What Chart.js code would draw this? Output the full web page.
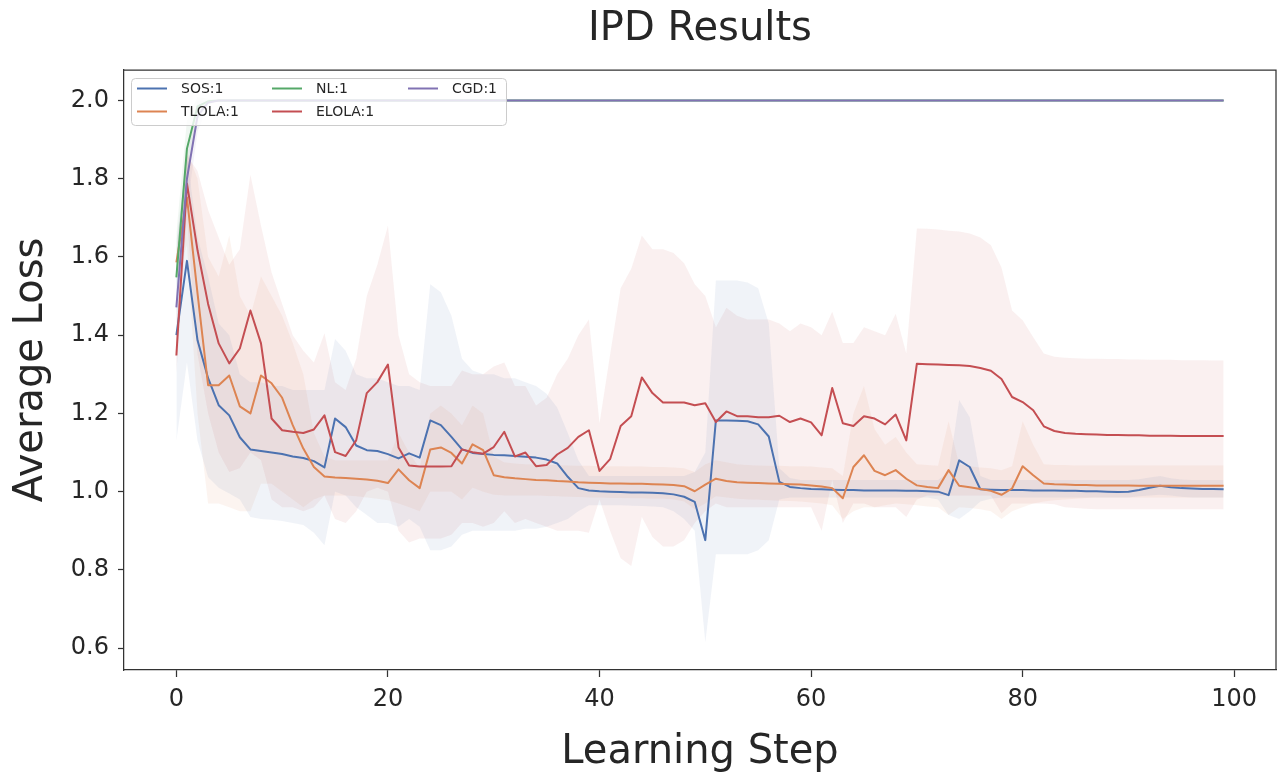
<!DOCTYPE html>
<html>
<head>
<meta charset="utf-8">
<title>IPD Results</title>
<script src="https://cdn.jsdelivr.net/npm/chart.js@4.4.1/dist/chart.umd.min.js"></script>
<style>
    html, body { margin: 0; padding: 0; background: #ffffff; }
    #wrap { width: 1278px; height: 782px; }
</style>
</head>
<body>
<div id="wrap"><canvas id="ipdChart" width="1278" height="782"></canvas></div>
<script>
// Learning steps (x values)
const steps = [
    0, 1, 2, 3, 4, 5, 6, 7, 8, 9,
    10, 11, 12, 13, 14, 15, 16, 17, 18, 19,
    20, 21, 22, 23, 24, 25, 26, 27, 28, 29,
    30, 31, 32, 33, 34, 35, 36, 37, 38, 39,
    40, 41, 42, 43, 44, 45, 46, 47, 48, 49,
    50, 51, 52, 53, 54, 55, 56, 57, 58, 59,
    60, 61, 62, 63, 64, 65, 66, 67, 68, 69,
    70, 71, 72, 73, 74, 75, 76, 77, 78, 79,
    80, 81, 82, 83, 84, 85, 86, 87, 88, 89,
    90, 91, 92, 93, 94, 95, 96, 97, 98, 99
];

const xTicks = [0, 20, 40, 60, 80, 100];
const yTicks = [0.6, 0.8, 1.0, 1.2, 1.4, 1.6, 1.8, 2.0];

const seriesNames = ['SOS:1', 'TLOLA:1', 'NL:1', 'ELOLA:1', 'CGD:1'];
const seriesColors = ['#4c72b0', '#dd8452', '#55a868', '#c44e52', '#8172b3'];

// SOS
const sosMean = [
    1.400, 1.590, 1.387, 1.290, 1.221, 1.195, 1.139, 1.108, 1.104, 1.100,
    1.096, 1.090, 1.086, 1.078, 1.062, 1.187, 1.165, 1.118, 1.106, 1.104,
    1.096, 1.085, 1.098, 1.087, 1.182, 1.170, 1.140, 1.108, 1.099, 1.096,
    1.094, 1.093, 1.091, 1.089, 1.087, 1.082, 1.072, 1.038, 1.009, 1.003,
    1.001, 1.000, 0.999, 0.998, 0.998, 0.997, 0.996, 0.993, 0.987, 0.974,
    0.876, 1.182, 1.182, 1.181, 1.180, 1.172, 1.141, 1.025, 1.012, 1.009,
    1.007, 1.006, 1.005, 1.004, 1.004, 1.003, 1.003, 1.003, 1.003, 1.002,
    1.002, 1.001, 1.000, 0.991, 1.080, 1.063, 1.006, 1.005, 1.004, 1.004,
    1.004, 1.003, 1.003, 1.003, 1.002, 1.002, 1.001, 1.001, 1.000, 0.999,
    1.000, 1.004, 1.010, 1.015, 1.011, 1.009, 1.008, 1.007, 1.007, 1.006
];
const sosUpper = [
    1.640, 1.860, 1.650, 1.550, 1.430, 1.400, 1.300, 1.280, 1.280, 1.270,
    1.270, 1.260, 1.260, 1.260, 1.260, 1.390, 1.360, 1.300, 1.290, 1.290,
    1.280, 1.270, 1.270, 1.260, 1.530, 1.510, 1.450, 1.340, 1.310, 1.300,
    1.300, 1.290, 1.290, 1.280, 1.270, 1.250, 1.215, 1.150, 1.080, 1.040,
    1.040, 1.040, 1.040, 1.040, 1.040, 1.040, 1.040, 1.040, 1.040, 1.050,
    1.100, 1.540, 1.540, 1.540, 1.535, 1.520, 1.430, 1.060, 1.035, 1.030,
    1.030, 1.030, 1.030, 1.030, 1.030, 1.030, 1.030, 1.030, 1.030, 1.030,
    1.030, 1.030, 1.030, 1.050, 1.234, 1.190, 1.040, 1.030, 1.030, 1.030,
    1.030, 1.030, 1.030, 1.030, 1.030, 1.030, 1.030, 1.030, 1.030, 1.030,
    1.030, 1.032, 1.036, 1.040, 1.034, 1.031, 1.030, 1.030, 1.030, 1.030
];
const sosLower = [
    1.130, 1.330, 1.130, 1.037, 1.010, 0.995, 0.980, 0.935, 0.930, 0.928,
    0.925, 0.920, 0.915, 0.895, 0.863, 1.000, 0.990, 0.960, 0.940, 0.920,
    0.920, 0.910, 0.930, 0.910, 0.850, 0.850, 0.860, 0.890, 0.900, 0.900,
    0.900, 0.900, 0.900, 0.905, 0.905, 0.910, 0.920, 0.930, 0.950, 0.965,
    0.965, 0.965, 0.965, 0.964, 0.963, 0.962, 0.960, 0.950, 0.930, 0.900,
    0.615, 0.840, 0.840, 0.840, 0.840, 0.850, 0.876, 0.980, 0.985, 0.985,
    0.985, 0.985, 0.985, 0.985, 0.985, 0.985, 0.985, 0.985, 0.985, 0.985,
    0.985, 0.985, 0.980, 0.940, 0.930, 0.950, 0.975, 0.982, 0.985, 0.985,
    0.985, 0.985, 0.985, 0.985, 0.985, 0.985, 0.985, 0.985, 0.985, 0.985,
    0.985, 0.988, 0.990, 0.992, 0.990, 0.987, 0.985, 0.985, 0.985, 0.985
];

// TLOLA
const tlolaMean = [
    1.586, 1.752, 1.507, 1.272, 1.272, 1.297, 1.218, 1.200, 1.297, 1.277,
    1.240, 1.170, 1.110, 1.063, 1.039, 1.036, 1.035, 1.033, 1.031, 1.028,
    1.022, 1.057, 1.029, 1.009, 1.108, 1.113, 1.099, 1.072, 1.121, 1.106,
    1.042, 1.037, 1.034, 1.032, 1.030, 1.029, 1.027, 1.026, 1.024, 1.023,
    1.022, 1.021, 1.021, 1.020, 1.020, 1.019, 1.018, 1.017, 1.014, 1.001,
    1.018, 1.033, 1.027, 1.024, 1.023, 1.022, 1.021, 1.020, 1.019, 1.018,
    1.016, 1.013, 1.009, 0.983, 1.063, 1.093, 1.053, 1.042, 1.055, 1.033,
    1.016, 1.012, 1.009, 1.055, 1.015, 1.011, 1.007, 1.002, 0.992, 1.008,
    1.065, 1.042, 1.021, 1.019, 1.018, 1.017, 1.017, 1.016, 1.016, 1.016,
    1.016, 1.015, 1.015, 1.015, 1.015, 1.015, 1.015, 1.015, 1.015, 1.015
];
const tlolaUpper = [
    1.620, 1.870, 1.800, 1.600, 1.550, 1.655, 1.500, 1.450, 1.550, 1.500,
    1.450, 1.380, 1.300, 1.150, 1.090, 1.080, 1.080, 1.080, 1.080, 1.080,
    1.080, 1.150, 1.100, 1.060, 1.200, 1.220, 1.200, 1.170, 1.220, 1.200,
    1.090, 1.075, 1.072, 1.070, 1.070, 1.068, 1.068, 1.067, 1.066, 1.066,
    1.065, 1.065, 1.065, 1.064, 1.064, 1.063, 1.063, 1.062, 1.060, 1.050,
    1.070, 1.080, 1.075, 1.070, 1.068, 1.067, 1.066, 1.066, 1.065, 1.065,
    1.064, 1.062, 1.060, 1.040, 1.200, 1.270, 1.160, 1.120, 1.140, 1.100,
    1.070, 1.068, 1.066, 1.180, 1.070, 1.065, 1.062, 1.060, 1.055, 1.065,
    1.180, 1.120, 1.070, 1.068, 1.068, 1.067, 1.067, 1.067, 1.067, 1.067,
    1.067, 1.067, 1.067, 1.067, 1.067, 1.067, 1.067, 1.067, 1.067, 1.067
];
const tlolaLower = [
    1.550, 1.630, 1.200, 0.970, 0.970, 0.960, 0.950, 0.950, 1.020, 1.020,
    1.000, 0.980, 0.960, 0.980, 0.990, 0.990, 0.990, 0.988, 0.985, 0.982,
    0.978, 0.970, 0.960, 0.950, 1.000, 1.000, 1.000, 0.980, 1.010, 1.000,
    0.992, 0.990, 0.990, 0.990, 0.990, 0.989, 0.988, 0.987, 0.986, 0.985,
    0.985, 0.984, 0.984, 0.983, 0.983, 0.982, 0.982, 0.980, 0.975, 0.955,
    0.970, 0.988, 0.985, 0.982, 0.980, 0.979, 0.978, 0.977, 0.976, 0.975,
    0.972, 0.970, 0.965, 0.930, 0.950, 0.960, 0.960, 0.965, 0.970, 0.968,
    0.965, 0.962, 0.960, 0.940, 0.960, 0.958, 0.955, 0.950, 0.930, 0.950,
    0.960, 0.970, 0.975, 0.978, 0.980, 0.982, 0.984, 0.985, 0.985, 0.985,
    0.985, 0.985, 0.985, 0.985, 0.985, 0.985, 0.985, 0.985, 0.985, 0.985
];

// NL
const nlMean = [
    1.548, 1.877, 1.985, 1.998, 2.000, 2.000, 2.000, 2.000, 2.000, 2.000,
    2.000, 2.000, 2.000, 2.000, 2.000, 2.000, 2.000, 2.000, 2.000, 2.000,
    2.000, 2.000, 2.000, 2.000, 2.000, 2.000, 2.000, 2.000, 2.000, 2.000,
    2.000, 2.000, 2.000, 2.000, 2.000, 2.000, 2.000, 2.000, 2.000, 2.000,
    2.000, 2.000, 2.000, 2.000, 2.000, 2.000, 2.000, 2.000, 2.000, 2.000,
    2.000, 2.000, 2.000, 2.000, 2.000, 2.000, 2.000, 2.000, 2.000, 2.000,
    2.000, 2.000, 2.000, 2.000, 2.000, 2.000, 2.000, 2.000, 2.000, 2.000,
    2.000, 2.000, 2.000, 2.000, 2.000, 2.000, 2.000, 2.000, 2.000, 2.000,
    2.000, 2.000, 2.000, 2.000, 2.000, 2.000, 2.000, 2.000, 2.000, 2.000,
    2.000, 2.000, 2.000, 2.000, 2.000, 2.000, 2.000, 2.000, 2.000, 2.000
];
const nlUpper = [1.660, 1.950, 2.009, 2.005, 2.000];
const nlLower = [1.440, 1.800, 1.955, 1.990, 2.000];

// ELOLA
const elolaMean = [
    1.348, 1.788, 1.617, 1.480, 1.379, 1.328, 1.366, 1.463, 1.379, 1.187,
    1.157, 1.153, 1.150, 1.159, 1.195, 1.101, 1.091, 1.131, 1.252, 1.280,
    1.325, 1.113, 1.067, 1.064, 1.064, 1.064, 1.065, 1.108, 1.101, 1.097,
    1.114, 1.153, 1.090, 1.100, 1.065, 1.068, 1.095, 1.112, 1.140, 1.157,
    1.053, 1.083, 1.168, 1.193, 1.292, 1.252, 1.228, 1.228, 1.228, 1.221,
    1.226, 1.178, 1.205, 1.193, 1.193, 1.190, 1.190, 1.194, 1.178, 1.187,
    1.177, 1.144, 1.265, 1.175, 1.168, 1.193, 1.187, 1.172, 1.197, 1.131,
    1.327, 1.326, 1.325, 1.324, 1.323, 1.321, 1.316, 1.309, 1.288, 1.242,
    1.229, 1.208, 1.167, 1.155, 1.150, 1.148, 1.147, 1.146, 1.145, 1.145,
    1.144, 1.144, 1.143, 1.143, 1.143, 1.142, 1.142, 1.142, 1.142, 1.142
];
const elolaUpper = [
    1.400, 1.860, 1.820, 1.720, 1.650, 1.580, 1.620, 1.810, 1.680, 1.560,
    1.480, 1.400, 1.360, 1.330, 1.405, 1.280, 1.260, 1.340, 1.500, 1.580,
    1.680, 1.400, 1.300, 1.280, 1.270, 1.270, 1.270, 1.310, 1.300, 1.300,
    1.320, 1.330, 1.270, 1.270, 1.220, 1.240, 1.300, 1.340, 1.400, 1.440,
    1.175, 1.350, 1.520, 1.570, 1.655, 1.620, 1.620, 1.610, 1.584, 1.530,
    1.500, 1.420, 1.470, 1.450, 1.440, 1.440, 1.440, 1.430, 1.410, 1.430,
    1.420, 1.400, 1.460, 1.380, 1.380, 1.420, 1.410, 1.400, 1.455, 1.353,
    1.673, 1.672, 1.670, 1.667, 1.665, 1.660, 1.650, 1.630, 1.573, 1.463,
    1.438, 1.395, 1.353, 1.345, 1.342, 1.341, 1.340, 1.340, 1.339, 1.339,
    1.338, 1.338, 1.337, 1.337, 1.337, 1.336, 1.336, 1.336, 1.335, 1.335
];
const elolaLower = [
    1.300, 1.700, 1.350, 1.200, 1.100, 1.050, 1.060, 1.100, 1.080, 0.980,
    0.960, 0.960, 0.950, 0.960, 0.990, 0.930, 0.920, 0.950, 1.000, 1.010,
    1.000, 0.900, 0.870, 0.880, 0.880, 0.880, 0.890, 0.920, 0.920, 0.910,
    0.920, 0.950, 0.920, 0.930, 0.920, 0.910, 0.900, 0.900, 0.900, 0.895,
    0.980, 0.900, 0.830, 0.810, 0.935, 0.884, 0.860, 0.860, 0.876, 0.920,
    0.950, 0.970, 0.960, 0.960, 0.960, 0.960, 0.960, 0.960, 0.960, 0.960,
    0.960, 0.900, 1.030, 0.920, 0.970, 0.970, 0.960, 0.960, 0.960, 0.935,
    0.980, 0.990, 0.990, 0.990, 0.990, 0.990, 0.990, 0.990, 0.945, 0.970,
    0.970, 0.970, 0.970, 0.968, 0.960, 0.958, 0.956, 0.955, 0.955, 0.955,
    0.955, 0.955, 0.955, 0.955, 0.955, 0.955, 0.955, 0.955, 0.955, 0.955
];

// CGD
const cgdMean = [
    1.471, 1.800, 1.960, 1.995, 2.000, 2.000, 2.000, 2.000, 2.000, 2.000,
    2.000, 2.000, 2.000, 2.000, 2.000, 2.000, 2.000, 2.000, 2.000, 2.000,
    2.000, 2.000, 2.000, 2.000, 2.000, 2.000, 2.000, 2.000, 2.000, 2.000,
    2.000, 2.000, 2.000, 2.000, 2.000, 2.000, 2.000, 2.000, 2.000, 2.000,
    2.000, 2.000, 2.000, 2.000, 2.000, 2.000, 2.000, 2.000, 2.000, 2.000,
    2.000, 2.000, 2.000, 2.000, 2.000, 2.000, 2.000, 2.000, 2.000, 2.000,
    2.000, 2.000, 2.000, 2.000, 2.000, 2.000, 2.000, 2.000, 2.000, 2.000,
    2.000, 2.000, 2.000, 2.000, 2.000, 2.000, 2.000, 2.000, 2.000, 2.000,
    2.000, 2.000, 2.000, 2.000, 2.000, 2.000, 2.000, 2.000, 2.000, 2.000,
    2.000, 2.000, 2.000, 2.000, 2.000, 2.000, 2.000, 2.000, 2.000, 2.000
];
const cgdUpper = [1.600, 1.880, 2.000, 2.000, 2.000];
const cgdLower = [1.350, 1.720, 1.920, 1.990, 2.000];

const meanSets = [sosMean, tlolaMean, nlMean, elolaMean, cgdMean];
const upperSets = [sosUpper, tlolaUpper, nlUpper, elolaUpper, cgdUpper];
const lowerSets = [sosLower, tlolaLower, nlLower, elolaLower, cgdLower];

const titleText = 'IPD Results';
const textColor = '#262626';
const fontFamily = '"DejaVu Sans", sans-serif';

function toPoints(xs, ys) {
    return ys.map((y, i) => ({ x: xs[i], y: y }));
}

function withAlpha(hex, a) {
    const r = parseInt(hex.slice(1, 3), 16);
    const g = parseInt(hex.slice(3, 5), 16);
    const b = parseInt(hex.slice(5, 7), 16);
    return `rgba(${r}, ${g}, ${b}, ${a})`;
}

// Mean lines (lower order = drawn on top)
const datasets = [];
seriesNames.forEach((name, k) => {
    datasets.push({
        label: name,
        data: toPoints(steps, meanSets[k]),
        borderColor: seriesColors[k],
        borderWidth: 2,
        borderJoinStyle: 'round',
        pointRadius: 0,
        fill: false,
        tension: 0,
        order: 5 - k
    });
});

// Shaded bands: upper fills down to the lower dataset right after it
seriesNames.forEach((name, k) => {
    datasets.push({
        label: name + ' upper',
        data: toPoints(steps, upperSets[k]),
        borderColor: 'rgba(0, 0, 0, 0)',
        backgroundColor: withAlpha(seriesColors[k], 0.085),
        borderWidth: 1,
        pointRadius: 0,
        fill: '+1',
        order: 20
    });
    datasets.push({
        label: name + ' lower',
        data: toPoints(steps, lowerSets[k]),
        borderColor: 'rgba(0, 0, 0, 0)',
        borderWidth: 1,
        pointRadius: 0,
        fill: false,
        order: 20
    });
});

// Title, top/right spines and matplotlib-style legend box
const decorations = {
    id: 'decorations',
    afterDraw(chart) {
        const ctx = chart.ctx;
        const area = chart.chartArea;
        ctx.save();

        // top and right spines
        ctx.strokeStyle = '#333333';
        ctx.lineWidth = 1.25;
        ctx.beginPath();
        ctx.moveTo(area.left, area.top);
        ctx.lineTo(area.right, area.top);
        ctx.lineTo(area.right, area.bottom);
        ctx.stroke();

        // title
        ctx.fillStyle = textColor;
        ctx.font = '40px ' + fontFamily;
        ctx.textAlign = 'center';
        ctx.textBaseline = 'middle';
        ctx.fillText(titleText, (area.left + area.right) / 2, 30);

        // legend box
        const bx = area.left + 7.5, by = area.top + 8.5, bw = 375, bh = 47, r = 4;
        ctx.beginPath();
        ctx.moveTo(bx + r, by);
        ctx.arcTo(bx + bw, by, bx + bw, by + bh, r);
        ctx.arcTo(bx + bw, by + bh, bx, by + bh, r);
        ctx.arcTo(bx, by + bh, bx, by, r);
        ctx.arcTo(bx, by, bx + bw, by, r);
        ctx.closePath();
        ctx.fillStyle = 'rgba(255, 255, 255, 0.8)';
        ctx.fill();
        ctx.strokeStyle = '#cccccc';
        ctx.lineWidth = 1;
        ctx.stroke();

        const colX = [13, 148, 284];
        const rowY = [18.5, 41.5];
        ctx.font = '14px ' + fontFamily;
        ctx.textAlign = 'left';
        seriesNames.forEach((name, k) => {
            const lx = area.left + colX[Math.floor(k / 2)];
            const ly = area.top + rowY[k % 2];
            ctx.strokeStyle = seriesColors[k];
            ctx.lineWidth = 2;
            ctx.beginPath();
            ctx.moveTo(lx, ly);
            ctx.lineTo(lx + 30, ly);
            ctx.stroke();
            ctx.fillStyle = textColor;
            ctx.fillText(name, lx + 44, ly + 1);
        });
        ctx.restore();
    }
};

const ctx = document.getElementById('ipdChart');
new Chart(ctx, {
    type: 'line',
    data: { datasets: datasets },
    options: {
        responsive: false,
        animation: false,
        layout: { padding: { top: 70, right: 2, left: 0, bottom: 0 } },
        plugins: {
            legend: { display: false },
            title: { display: false },
            tooltip: { enabled: false }
        },
        scales: {
            x: {
                type: 'linear',
                min: -4.95,
                max: 103.95,
                afterBuildTicks: (scale) => { scale.ticks = xTicks.map(v => ({ value: v })); },
                afterFit: (scale) => { scale.height = 112; },
                ticks: {
                    autoSkip: false,
                    maxRotation: 0,
                    padding: 8,
                    color: textColor,
                    font: { family: fontFamily, size: 24 },
                    callback: (v) => String(v)
                },
                grid: { drawOnChartArea: false, drawTicks: true, tickLength: 7, tickWidth: 1.25, color: '#333333' },
                border: { display: true, color: '#333333', width: 1.25 },
                title: {
                    display: true,
                    text: 'Learning Step',
                    color: textColor,
                    font: { family: fontFamily, size: 40 },
                    padding: { top: 0, bottom: 5 }
                }
            },
            y: {
                type: 'linear',
                min: 0.544,
                max: 2.078,
                afterBuildTicks: (scale) => { scale.ticks = yTicks.map(v => ({ value: v })); },
                afterFit: (scale) => { scale.width = 124; },
                ticks: {
                    autoSkip: false,
                    padding: 9,
                    color: textColor,
                    font: { family: fontFamily, size: 24 },
                    callback: (v) => Number(v).toFixed(1)
                },
                grid: { drawOnChartArea: false, drawTicks: true, tickLength: 6, tickWidth: 1.25, color: '#333333' },
                border: { display: true, color: '#333333', width: 1.25 },
                title: {
                    display: true,
                    text: 'Average Loss',
                    color: textColor,
                    font: { family: fontFamily, size: 40 },
                    padding: { top: 8, bottom: 0 }
                }
            }
        }
    },
    plugins: [decorations]
});
</script>
</body>
</html>
